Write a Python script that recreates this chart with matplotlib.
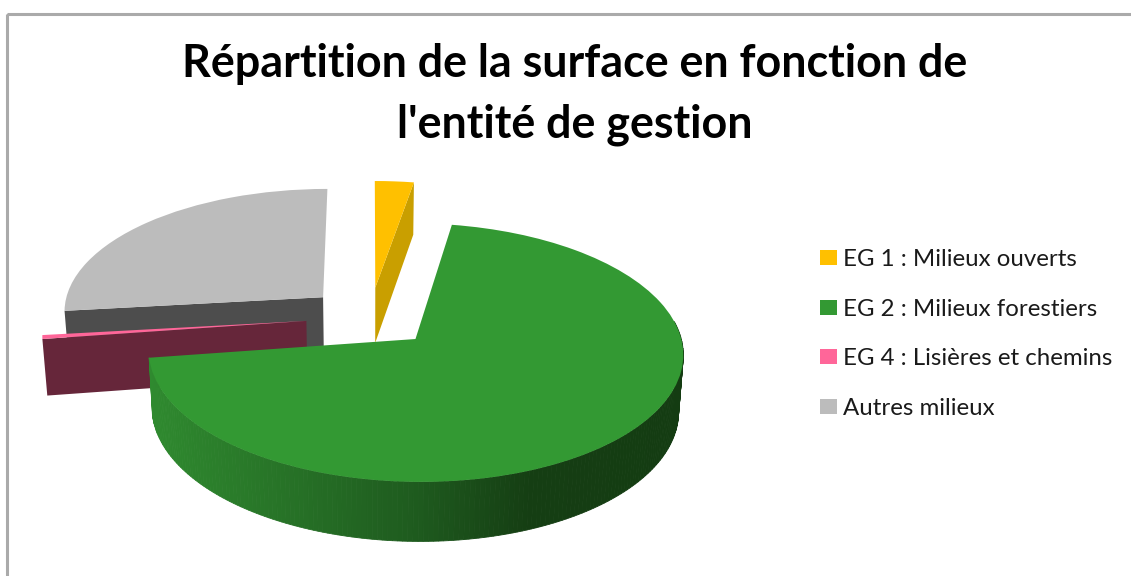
#3D looking exploded pie: ax.pie gives the wedges, a perspective transform tilts them
import numpy as np
import matplotlib
matplotlib.use('Agg')
import matplotlib.pyplot as plt
from matplotlib.patches import Rectangle
from matplotlib.path import Path
from matplotlib.transforms import Transform

labels = ['EG 1 : Milieux ouverts', 'EG 2 : Milieux forestiers', 'EG 4 : Lisières et chemins', 'Autres milieux']
values = [2.7, 70.0, 0.5, 26.8]
explode = [0.245, 0.245, 0.245, 0.245]
colors = ['#ffc000', '#339933', '#ff6699', '#bcbcbc']
wall_colors = ['#c99f00', '#2f8a2f', '#66263a', '#4d4d4d']
title = "Répartition de la surface en fonction de\nl'entité de gestion"

#pixel geometry of the tilted pie
CX, CY = 370, 317
A, B, K = 261, 123.3, 0.103


def project(u, v):
  w = 1 + K*v
  return CX + A*u/w, CY - B*v/w


class Tilt(Transform):
  input_dims = output_dims = 2
  has_inverse = False

  def transform_non_affine(self, xy):
    x, y = project(xy[:, 0], xy[:, 1])
    return np.column_stack([x, y])

  def transform_path_non_affine(self, path):
    return Path(self.transform_non_affine(path.vertices), path.codes)


def rim(w, deg):
  t = np.radians(deg)
  return w.center[0] + np.cos(t), w.center[1] + np.sin(t)


def lower(u, v):
  #same point on the underside of the pie
  x, y = project(u, v)
  return CX + (x - CX)*0.985, y + 56 - 3*v


def cut_face(w, deg):
  #flat radial face between centre and rim
  u0, v0 = w.center
  u1, v1 = rim(w, deg)
  x0, y0 = project(u0, v0)
  x1, y1 = project(u1, v1)
  x2, y2 = lower(u1, v1)
  x3, y3 = lower(u0, v0)
  return [x0, x1, x2, x3], [y0, y1, y2, y3]


fig = plt.figure(figsize=(11.31, 5.76), dpi=100)
ax = fig.add_axes([0, 0, 1, 1])
wedges, _ = ax.pie(values, explode=explode, colors=colors, startangle=90, counterclock=False)
ax.set_aspect('auto')
ax.set_xlim(0, 1131)
ax.set_ylim(576, 0)
ax.axis('off')

tilt = Tilt() + ax.transData
for w in wedges:
  w.set_transform(tilt)

yellow, green, pink, grey = wedges
grey.set_zorder(1.5)
yellow.set_zorder(2)
pink.set_zorder(3.1)
green.set_zorder(5)

#cut faces: grey at the back, then yellow and pink
x, y = cut_face(grey, grey.theta2)
ax.fill(x, y, color=wall_colors[3], lw=0, zorder=1)
x, y = cut_face(yellow, yellow.theta1)
ax.fill(x, y, color=wall_colors[0], lw=0, zorder=1.8)
x, y = cut_face(pink, pink.theta2)
ax.fill(x, y, color=wall_colors[2], lw=0, zorder=3)

#green outer wall, dark to the right like the original shading
angles = np.linspace(green.theta1, 8, 180)
shade_x = [150, 300, 420, 530, 690]
shade = np.array([[47, 138, 47], [38, 112, 38], [30, 90, 30], [21, 62, 19], [20, 60, 18]])/255
for a0, a1 in zip(angles[:-1], angles[1:]):
  u0, v0 = rim(green, a0)
  u1, v1 = rim(green, a1)
  x0, y0 = project(u0, v0)
  x1, y1 = project(u1, v1)
  x2, y2 = lower(u1, v1)
  x3, y3 = lower(u0, v0)
  c = [np.interp((x0 + x1)/2, shade_x, shade[:, j]) for j in range(3)]
  ax.fill([x0, x1, x2, x3], [y0, y1, y2, y3], color=c, lw=0.6, zorder=4)

#only the top and left of the frame are inside the picture
ax.add_patch(Rectangle((6.5, 13.5), 1200, 600, fill=False, ec='#aaaaaa', lw=2.2, zorder=0))

ax.text(575, 94.5, title, ha='center', va='center', fontsize=32.3, fontfamily='Lato',
  fontweight='bold', color='black', linespacing=1.52)

ax.legend(wedges, labels, loc='upper left', bbox_to_anchor=(820/1131, 1 - 249/576), frameon=False,
  prop={'family': 'Lato', 'size': 17.3}, labelspacing=1.19, handlelength=0.69, handleheight=0.58,
  handletextpad=0.25, borderpad=0, borderaxespad=0, labelcolor='#1a1a1a')

plt.savefig('out.png', dpi=100)
